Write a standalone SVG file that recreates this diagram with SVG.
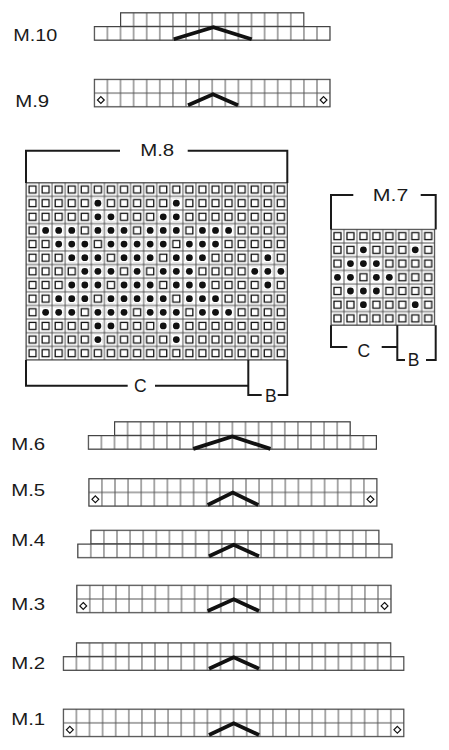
<svg xmlns="http://www.w3.org/2000/svg" xmlns:xlink="http://www.w3.org/1999/xlink" width="449" height="750" viewBox="0 0 449 750">
<style>
.lbl{font-family:"Liberation Sans",Arial,sans-serif;font-size:16px;fill:#1a1a1a}
.br{font-family:"Liberation Sans",Arial,sans-serif;font-size:17.5px;fill:#1a1a1a;text-anchor:middle}
.row{fill:url(#pc);stroke:#444;stroke-width:1}
.chev{fill:none;stroke:#111;stroke-width:3.8;stroke-linejoin:miter}
.bk{fill:none;stroke:#1a1a1a;stroke-width:2}
</style>
<defs>
<pattern id="pc" patternUnits="userSpaceOnUse" x="0" y="0" width="13.1" height="13.8">
<rect width="13.1" height="13.8" fill="#fff" stroke="#555" stroke-width="1"/>
</pattern>
<pattern id="p8" patternUnits="userSpaceOnUse" x="26" y="182.7" width="13.07" height="13.64">
<rect width="13.07" height="13.64" fill="#fff" stroke="#555" stroke-width="1"/>
<rect x="3.035" y="3.32" width="7" height="7" fill="none" stroke="#111" stroke-width="1.3"/>
</pattern>
<pattern id="p7" patternUnits="userSpaceOnUse" x="331" y="229.3" width="12.96" height="13.71">
<rect width="12.96" height="13.71" fill="#fff" stroke="#555" stroke-width="1"/>
<rect x="2.98" y="3.35" width="7" height="7" fill="none" stroke="#111" stroke-width="1.3"/>
</pattern>
<g id="dt"><rect x="-4.7" y="-4.7" width="9.4" height="9.4" fill="#fff"/><circle r="3.4" fill="#111"/></g>
<path id="dm" d="M0,-3.4 L3.4,0 L0,3.4 L-3.4,0Z" fill="#fff" stroke="#111" stroke-width="1.2"/>
<g id="R2"><use href="#dt" x="97.89"/><use href="#dt" x="176.31"/></g>
<g id="R3"><use href="#dt" x="97.89"/><use href="#dt" x="110.96"/><use href="#dt" x="163.24"/><use href="#dt" x="176.31"/></g>
<g id="R4"><use href="#dt" x="45.61"/><use href="#dt" x="58.68"/><use href="#dt" x="71.75"/><use href="#dt" x="97.89"/><use href="#dt" x="110.96"/><use href="#dt" x="124.03"/><use href="#dt" x="150.17"/><use href="#dt" x="163.24"/><use href="#dt" x="176.31"/><use href="#dt" x="202.45"/><use href="#dt" x="215.52"/><use href="#dt" x="228.59"/></g>
<g id="R5"><use href="#dt" x="58.68"/><use href="#dt" x="71.75"/><use href="#dt" x="84.82"/><use href="#dt" x="110.96"/><use href="#dt" x="124.03"/><use href="#dt" x="137.10"/><use href="#dt" x="150.17"/><use href="#dt" x="163.24"/><use href="#dt" x="189.38"/><use href="#dt" x="202.45"/><use href="#dt" x="215.52"/></g>
<g id="R6"><use href="#dt" x="71.75"/><use href="#dt" x="84.82"/><use href="#dt" x="97.89"/><use href="#dt" x="124.03"/><use href="#dt" x="137.10"/><use href="#dt" x="150.17"/><use href="#dt" x="176.31"/><use href="#dt" x="189.38"/><use href="#dt" x="202.45"/><use href="#dt" x="267.80"/></g>
<g id="R7"><use href="#dt" x="84.82"/><use href="#dt" x="97.89"/><use href="#dt" x="110.96"/><use href="#dt" x="137.10"/><use href="#dt" x="163.24"/><use href="#dt" x="176.31"/><use href="#dt" x="189.38"/><use href="#dt" x="254.73"/><use href="#dt" x="267.80"/><use href="#dt" x="280.87"/></g>
</defs>
<rect width="449" height="750" fill="#fff"/>

<g id="m10">
<text class="lbl" x="13.2" y="40.5" textLength="44" lengthAdjust="spacingAndGlyphs">M.10</text>
<g transform="translate(94.3,12.7)">
<rect class="row" x="26.2" y="0" width="183.4" height="13.8"/>
<rect class="row" x="0" y="13.8" width="235.8" height="13.8"/>
</g>
<polyline class="chev" points="173.7,39.3 213.3,27.3 251.7,39.3"/>
</g>

<g id="m9">
<text class="lbl" x="15.2" y="107" textLength="34" lengthAdjust="spacingAndGlyphs">M.9</text>
<g transform="translate(94.3,79.3)">
<rect class="row" x="0" y="0" width="235.8" height="27.6"/>
<use href="#dm" x="6.55" y="20.7"/><use href="#dm" x="229.25" y="20.7"/>
</g>
<polyline class="chev" points="188,105.3 213,94.3 238,105.3"/>
</g>

<g id="m8">
<rect x="26" y="182.7" width="261.4" height="177.32" fill="url(#p8)" stroke="#444" stroke-width="1"/>
<use href="#R2" y="203.16"/><use href="#R3" y="216.80"/><use href="#R4" y="230.44"/><use href="#R5" y="244.08"/><use href="#R6" y="257.72"/><use href="#R7" y="271.36"/><use href="#R6" y="285.00"/><use href="#R5" y="298.64"/><use href="#R4" y="312.28"/><use href="#R3" y="325.92"/><use href="#R2" y="339.56"/>
<path class="bk" d="M26,183 V150.7 H120 M187.7,150.7 H287.3 V183"/>
<text class="lbl" x="140.2" y="155.7" textLength="34" lengthAdjust="spacingAndGlyphs">M.8</text>
<path class="bk" d="M26,360 V385.7 H127.7 M155,385.7 H248.3 M248.3,360 V395 H261.7 M277.7,395 H287.3 V360"/>
<text class="br" x="140.3" y="392">C</text>
<text class="br" x="270.8" y="401.7">B</text>
</g>

<g id="m7">
<rect x="331" y="229.3" width="103.68" height="95.97" fill="url(#p7)" stroke="#444" stroke-width="1"/>
<use href="#dt" x="363.40" y="249.87"/><use href="#dt" x="415.24" y="249.87"/>
<use href="#dt" x="350.44" y="263.58"/><use href="#dt" x="363.40" y="263.58"/><use href="#dt" x="376.36" y="263.58"/>
<use href="#dt" x="337.48" y="277.29"/><use href="#dt" x="350.44" y="277.29"/><use href="#dt" x="376.36" y="277.29"/><use href="#dt" x="389.32" y="277.29"/>
<use href="#dt" x="350.44" y="291.0"/><use href="#dt" x="363.40" y="291.0"/><use href="#dt" x="376.36" y="291.0"/>
<use href="#dt" x="363.40" y="304.71"/><use href="#dt" x="415.24" y="304.71"/>
<path class="bk" d="M331,229.5 V195 H353.3 M420.7,195 H435.7 V229.5"/>
<text class="lbl" x="372.8" y="201" textLength="35.5" lengthAdjust="spacingAndGlyphs">M.7</text>
<path class="bk" d="M331,325.3 V347 H347.3 M381.7,347 H397.3 M397.3,325.3 V360 H405 M426,360 H435.7 V325.3"/>
<text class="br" x="363.7" y="356.7">C</text>
<text class="br" x="413.7" y="366">B</text>
</g>

<g id="m6">
<text class="lbl" x="11.2" y="449.5" textLength="34" lengthAdjust="spacingAndGlyphs">M.6</text>
<g transform="translate(88.3,421.7)">
<rect class="row" x="26.2" y="0" width="235.8" height="13.8"/>
<rect class="row" x="0" y="13.8" width="288.2" height="13.8"/>
</g>
<polyline class="chev" points="193.3,448.9 232.3,436.4 270.5,448.9"/>
</g>

<g id="m5">
<text class="lbl" x="11.2" y="496" textLength="34" lengthAdjust="spacingAndGlyphs">M.5</text>
<g transform="translate(88.8,478.6)">
<rect class="row" x="0" y="0" width="288.2" height="27.6"/>
<use href="#dm" x="6.55" y="20.7"/><use href="#dm" x="281.65" y="20.7"/>
</g>
<polyline class="chev" points="207.7,505 232.8,492.6 258.3,505"/>
</g>

<g id="m4">
<text class="lbl" x="11.2" y="545.7" textLength="34" lengthAdjust="spacingAndGlyphs">M.4</text>
<g transform="translate(77.7,530.2)">
<rect class="row" x="13.1" y="0" width="288.2" height="13.8"/>
<rect class="row" x="0" y="13.8" width="314.4" height="13.8"/>
</g>
<polyline class="chev" points="209,556.3 233.7,544.8 259,556.3"/>
</g>

<g id="m3">
<text class="lbl" x="11.2" y="610" textLength="34" lengthAdjust="spacingAndGlyphs">M.3</text>
<g transform="translate(76.7,585.2)">
<rect class="row" x="0" y="0" width="314.4" height="27.6"/>
<use href="#dm" x="6.55" y="20.7"/><use href="#dm" x="307.85" y="20.7"/>
</g>
<polyline class="chev" points="207.7,611 233.7,599.3 259,611"/>
</g>

<g id="m2">
<text class="lbl" x="11.2" y="669" textLength="34" lengthAdjust="spacingAndGlyphs">M.2</text>
<g transform="translate(63.3,642.8)">
<rect class="row" x="13.1" y="0" width="314.4" height="13.8"/>
<rect class="row" x="0" y="13.8" width="340.6" height="13.8"/>
</g>
<polyline class="chev" points="209,668.7 233.7,657.3 259,668.7"/>
</g>

<g id="m1">
<text class="lbl" x="11.2" y="725" textLength="34" lengthAdjust="spacingAndGlyphs">M.1</text>
<g transform="translate(63.3,709.1)">
<rect class="row" x="0" y="0" width="340.6" height="27.6"/>
<use href="#dm" x="6.55" y="20.7"/><use href="#dm" x="334.05" y="20.7"/>
</g>
<polyline class="chev" points="209,735 233.7,723.3 259,735"/>
</g>

<g id="connectors"></g>
</svg>
